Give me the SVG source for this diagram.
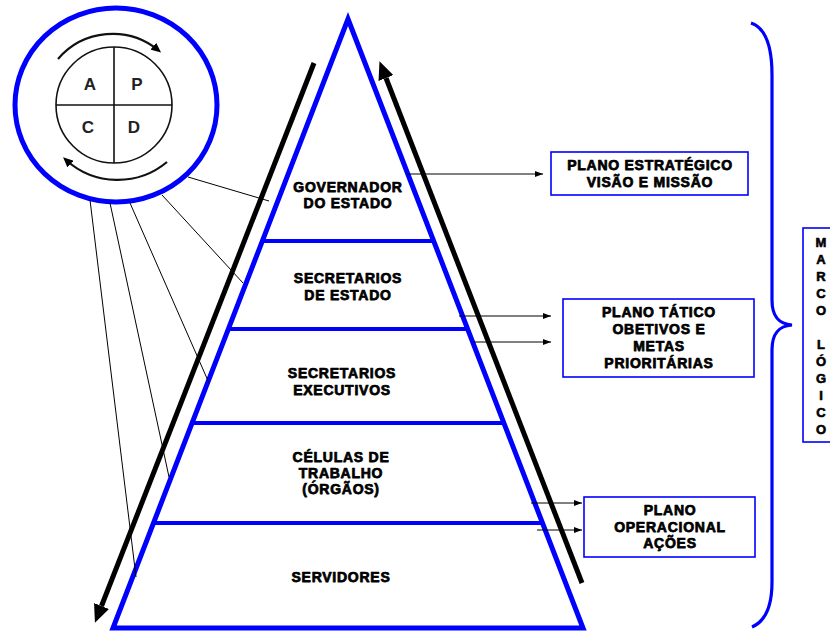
<svg xmlns="http://www.w3.org/2000/svg" width="830" height="632" viewBox="0 0 830 632">
<style>
.t{font-family:"Liberation Sans",Arial,sans-serif;font-weight:bold;font-size:14px;letter-spacing:0.75px;fill:#000;stroke:#000;stroke-width:0.75;stroke-linejoin:round;text-anchor:middle}
.v{font-family:"Liberation Sans",Arial,sans-serif;font-weight:bold;font-size:13px;fill:#000;stroke:#000;stroke-width:0.6;stroke-linejoin:round;text-anchor:middle}
.l{font-family:"Liberation Sans",Arial,sans-serif;font-weight:bold;font-size:17px;fill:#222;text-anchor:middle}
.blue{fill:none;stroke:#0000ff}
.box{fill:#fff;stroke:#0000ff;stroke-width:1.6}
.thin{fill:none;stroke:#000;stroke-width:1}
.big{fill:none;stroke:#000;stroke-width:5}
</style>
<defs>
<marker id="bigHead" markerUnits="userSpaceOnUse" viewBox="0 0 18 16" markerWidth="18" markerHeight="16" refX="0" refY="8" orient="auto">
<path d="M0,0 L18,8 L0,16 z" fill="#000"/>
</marker>
<marker id="smallHead" markerUnits="userSpaceOnUse" viewBox="0 0 8 6" markerWidth="8" markerHeight="6" refX="8" refY="3" orient="auto">
<path d="M0,0 L8,3 L0,6 z" fill="#000"/>
</marker>
<marker id="arcHead" markerUnits="userSpaceOnUse" viewBox="0 0 10 9" markerWidth="10" markerHeight="9" refX="6" refY="4.5" orient="auto">
<path d="M0,0 L10,4.5 L0,9 z" fill="#000"/>
</marker>
</defs>
<rect width="830" height="632" fill="#fff"/>

<!-- pyramid -->
<g id="pyramid">
<polygon class="blue" points="348,19 583,628 113,628" stroke-width="5" stroke-linejoin="miter"/>
<line class="blue" x1="262" y1="241" x2="434" y2="241" stroke-width="4"/>
<line class="blue" x1="228" y1="329" x2="468" y2="329" stroke-width="4"/>
<line class="blue" x1="192" y1="423" x2="504" y2="423" stroke-width="4"/>
<line class="blue" x1="153" y1="523" x2="543" y2="523" stroke-width="4"/>
</g>

<g id="governador">
<text class="t" x="348" y="192">GOVERNADOR</text>
<text class="t" x="348" y="208">DO ESTADO</text>
</g>
<g id="secretarios-estado">
<text class="t" x="348" y="283">SECRETARIOS</text>
<text class="t" x="348" y="300">DE ESTADO</text>
</g>
<g id="secretarios-executivos">
<text class="t" x="342" y="378">SECRETARIOS</text>
<text class="t" x="342" y="395">EXECUTIVOS</text>
</g>
<g id="celulas">
<text class="t" x="341" y="462">CÉLULAS DE</text>
<text class="t" x="341" y="478">TRABALHO</text>
<text class="t" x="341" y="494">(ÓRGÃOS)</text>
</g>
<g id="servidores">
<text class="t" x="341" y="582">SERVIDORES</text>
</g>

<!-- PDCA circle -->
<g id="pdca">
<ellipse class="blue" cx="116" cy="105" rx="101" ry="97" stroke-width="5"/>
<circle cx="114" cy="105" r="58" fill="none" stroke="#111" stroke-width="1.6"/>
<line x1="114" y1="47" x2="114" y2="163" stroke="#111" stroke-width="1.6"/>
<line x1="56" y1="105" x2="172" y2="105" stroke="#111" stroke-width="1.6"/>
<path d="M58,59 A72,72 0 0 1 158,50" fill="none" stroke="#111" stroke-width="2.2" marker-end="url(#arcHead)"/>
<path d="M167,162 A77,77 0 0 1 66,160" fill="none" stroke="#111" stroke-width="2.2" marker-end="url(#arcHead)"/>
<text class="l" x="90" y="90">A</text>
<text class="l" x="137" y="90">P</text>
<text class="l" x="88" y="133">C</text>
<text class="l" x="134" y="133">D</text>
</g>

<!-- boxes -->
<g id="plano-estrategico">
<rect class="box" x="551" y="152" width="197" height="43"/>
<text class="t" x="650" y="170">PLANO ESTRATÉGICO</text>
<text class="t" x="650" y="187">VISÃO E MISSÃO</text>
</g>
<g id="plano-tatico">
<rect class="box" x="563" y="299" width="191" height="78"/>
<text class="t" x="659" y="317">PLANO TÁTICO</text>
<text class="t" x="659" y="334">OBETIVOS E</text>
<text class="t" x="659" y="351">METAS</text>
<text class="t" x="659" y="368">PRIORITÁRIAS</text>
</g>
<g id="plano-operacional">
<rect class="box" x="584" y="497" width="171" height="60"/>
<text class="t" x="670" y="515">PLANO</text>
<text class="t" x="670" y="532">OPERACIONAL</text>
<text class="t" x="670" y="548">AÇÕES</text>
</g>
<g id="marco-logico">
<rect class="box" x="803" y="228" width="40" height="214"/>
<text class="v" x="821" y="247">M</text>
<text class="v" x="821" y="264">A</text>
<text class="v" x="821" y="281">R</text>
<text class="v" x="821" y="298">C</text>
<text class="v" x="821" y="315">O</text>
<text class="v" x="821" y="349">L</text>
<text class="v" x="821" y="366">Ó</text>
<text class="v" x="821" y="383">G</text>
<text class="v" x="821" y="400">I</text>
<text class="v" x="821" y="417">C</text>
<text class="v" x="821" y="434">O</text>
</g>
<g id="brace">
<path class="blue" stroke-width="3.2" d="M751,23 C766,28 772,48 772,75 L772,300 C772,317 779,324 792,325 C779,326 772,333 772,350 L772,582 C772,606 766,621 752,627"/>
</g>

<!-- connectors -->
<g id="connectors">
<line class="big" x1="314" y1="63" x2="101.5" y2="606" marker-end="url(#bigHead)"/>
<line class="big" x1="582" y1="583" x2="386" y2="78" marker-end="url(#bigHead)"/>
<line class="thin" x1="188" y1="177" x2="269" y2="201"/>
<line class="thin" x1="162" y1="195" x2="243" y2="283"/>
<line class="thin" x1="130" y1="203" x2="209" y2="383"/>
<line class="thin" x1="110" y1="203" x2="169" y2="477"/>
<line class="thin" x1="90" y1="200" x2="136" y2="577"/>
<line class="thin" x1="407" y1="174" x2="543" y2="174" marker-end="url(#smallHead)"/>
<line class="thin" x1="459" y1="316" x2="551" y2="316" marker-end="url(#smallHead)"/>
<line class="thin" x1="473" y1="342" x2="551" y2="342" marker-end="url(#smallHead)"/>
<line class="thin" x1="531" y1="503" x2="582" y2="503" marker-end="url(#smallHead)"/>
<line class="thin" x1="537" y1="530" x2="582" y2="530" marker-end="url(#smallHead)"/>
</g>
</svg>
